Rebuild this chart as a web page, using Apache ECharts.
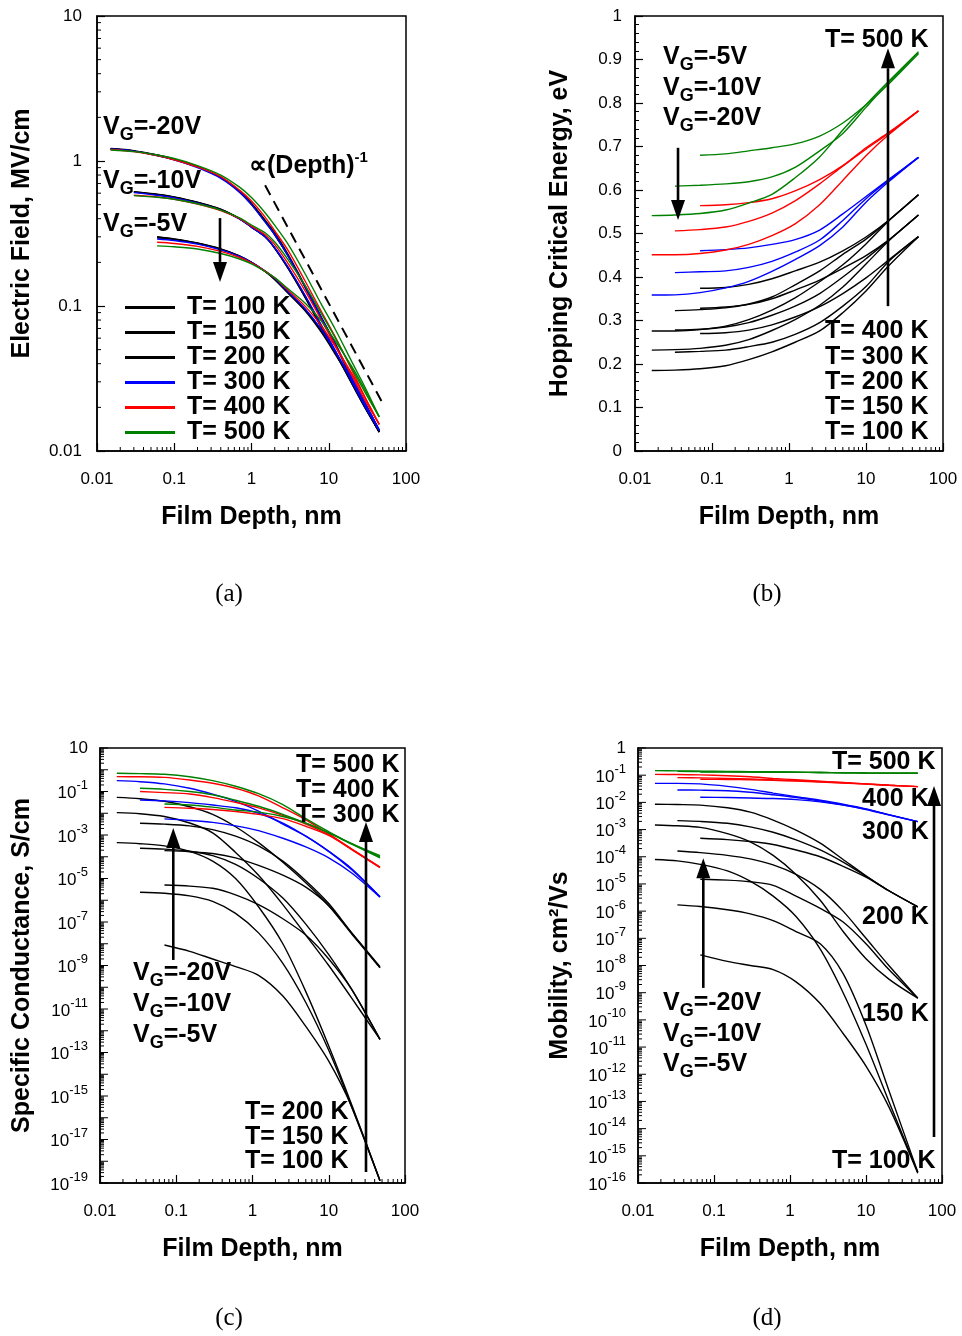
<!DOCTYPE html>
<html><head><meta charset="utf-8"><title>Film depth charts</title>
<script src="https://cdn.jsdelivr.net/npm/echarts@6.0.0/dist/echarts.min.js"></script>
<style>html,body{margin:0;padding:0;background:#fff;}#chart{width:962px;height:1336px;}</style>
</head><body><div id="chart"></div>
<script>
// ---------------- DATA ----------------
// Panel (a): Electric field (MV/cm) vs film depth (nm)
const depthA = [0.015, 0.03, 0.06, 0.1, 0.2, 0.4, 0.7, 1, 1.5, 2, 3, 5, 8, 12, 20, 30, 45];
const eVG20T100 = [1.22, 1.18, 1.10, 1.03, 0.91, 0.77, 0.61, 0.50, 0.38, 0.31, 0.22, 0.133, 0.082, 0.055, 0.031, 0.020, 0.0135];
const eVG20T150 = [1.21, 1.17, 1.10, 1.03, 0.91, 0.77, 0.62, 0.51, 0.39, 0.31, 0.22, 0.134, 0.083, 0.055, 0.031, 0.020, 0.0136];
const eVG20T200 = [1.21, 1.17, 1.09, 1.02, 0.91, 0.77, 0.62, 0.51, 0.39, 0.32, 0.225, 0.136, 0.084, 0.056, 0.032, 0.021, 0.014];
const eVG20T300 = [1.21, 1.17, 1.09, 1.02, 0.90, 0.76, 0.61, 0.50, 0.38, 0.31, 0.22, 0.134, 0.083, 0.055, 0.032, 0.021, 0.0138];
const eVG20T400 = [1.20, 1.16, 1.09, 1.02, 0.91, 0.78, 0.63, 0.53, 0.41, 0.33, 0.24, 0.147, 0.092, 0.062, 0.036, 0.023, 0.0152];
const eVG20T500 = [1.19, 1.16, 1.10, 1.04, 0.93, 0.80, 0.66, 0.56, 0.44, 0.36, 0.265, 0.165, 0.103, 0.070, 0.041, 0.027, 0.0172];
const eVG10T100 = [null, 0.615, 0.59, 0.565, 0.52, 0.465, 0.40, 0.35, 0.30, 0.25, 0.18, 0.113, 0.071, 0.048, 0.029, 0.0195, 0.0135];
const eVG10T150 = [null, 0.612, 0.588, 0.563, 0.518, 0.463, 0.40, 0.35, 0.30, 0.25, 0.181, 0.114, 0.072, 0.049, 0.029, 0.0196, 0.0136];
const eVG10T200 = [null, 0.61, 0.585, 0.56, 0.515, 0.46, 0.40, 0.35, 0.30, 0.252, 0.183, 0.116, 0.073, 0.049, 0.030, 0.020, 0.0138];
const eVG10T300 = [null, 0.605, 0.58, 0.557, 0.512, 0.458, 0.398, 0.35, 0.30, 0.252, 0.184, 0.117, 0.074, 0.050, 0.030, 0.020, 0.0139];
const eVG10T400 = [null, 0.58, 0.565, 0.545, 0.505, 0.455, 0.40, 0.355, 0.31, 0.265, 0.195, 0.126, 0.080, 0.054, 0.033, 0.022, 0.0153];
const eVG10T500 = [null, 0.577, 0.562, 0.545, 0.507, 0.458, 0.405, 0.362, 0.32, 0.276, 0.207, 0.137, 0.089, 0.061, 0.037, 0.025, 0.0172];
const eVG5T100 = [null, null, 0.30, 0.29, 0.272, 0.248, 0.222, 0.20, 0.173, 0.152, 0.122, 0.092, 0.066, 0.047, 0.030, 0.020, 0.0135];
const eVG5T150 = [null, null, 0.298, 0.289, 0.271, 0.247, 0.221, 0.20, 0.173, 0.153, 0.123, 0.093, 0.067, 0.048, 0.030, 0.020, 0.0136];
const eVG5T200 = [null, null, 0.295, 0.287, 0.27, 0.246, 0.221, 0.20, 0.174, 0.154, 0.124, 0.094, 0.068, 0.048, 0.031, 0.021, 0.0138];
const eVG5T300 = [null, null, 0.29, 0.283, 0.267, 0.244, 0.22, 0.20, 0.174, 0.155, 0.125, 0.095, 0.069, 0.049, 0.031, 0.021, 0.014];
const eVG5T400 = [null, null, 0.275, 0.27, 0.258, 0.238, 0.216, 0.198, 0.174, 0.156, 0.128, 0.099, 0.073, 0.053, 0.034, 0.023, 0.0153];
const eVG5T500 = [null, null, 0.26, 0.256, 0.247, 0.230, 0.211, 0.195, 0.173, 0.157, 0.131, 0.104, 0.079, 0.058, 0.038, 0.026, 0.0172];
const slopeRefDepth = [1.5, 52];
const slopeRefField = [0.68, 0.0205];

// Panel (b): hopping critical energy (eV)
const depthB = [0.0165, 0.033, 0.07, 0.15, 0.3, 0.6, 1.2, 2.5, 5, 10, 20, 48];
const hVG5T500 = [null, null, 0.680, 0.683, 0.690, 0.697, 0.706, 0.724, 0.754, 0.796, 0.845, 0.914];
const hVG10T500 = [null, 0.609, 0.611, 0.614, 0.619, 0.630, 0.652, 0.690, 0.730, 0.790, 0.848, 0.914];
const hVG20T500 = [0.541, 0.5425, 0.546, 0.554, 0.570, 0.590, 0.628, 0.676, 0.738, 0.796, 0.851, 0.918];
const hVG5T400 = [null, null, 0.564, 0.566, 0.571, 0.580, 0.598, 0.624, 0.656, 0.697, 0.733, 0.782];
const hVG10T400 = [null, 0.506, 0.509, 0.515, 0.528, 0.547, 0.575, 0.614, 0.655, 0.694, 0.731, 0.782];
const hVG20T400 = [0.451, 0.451, 0.454, 0.462, 0.475, 0.495, 0.522, 0.566, 0.622, 0.679, 0.728, 0.782];
const hVG5T300 = [null, null, 0.4605, 0.463, 0.467, 0.475, 0.486, 0.508, 0.545, 0.585, 0.625, 0.675];
const hVG10T300 = [null, 0.41, 0.412, 0.414, 0.422, 0.436, 0.457, 0.485, 0.530, 0.580, 0.623, 0.675];
const hVG20T300 = [0.3586, 0.359, 0.364, 0.375, 0.390, 0.413, 0.440, 0.472, 0.515, 0.572, 0.620, 0.675];
const hVG5T200 = [null, null, 0.374, 0.376, 0.383, 0.396, 0.414, 0.434, 0.460, 0.492, 0.531, 0.589];
const hVG10T200 = [null, 0.3226, 0.325, 0.329, 0.338, 0.354, 0.382, 0.414, 0.452, 0.487, 0.531, 0.589];
const hVG20T200 = [0.276, 0.276, 0.279, 0.287, 0.302, 0.324, 0.352, 0.389, 0.428, 0.476, 0.530, 0.589];
const hVG5T150 = [null, null, 0.328, 0.331, 0.337, 0.350, 0.370, 0.393, 0.420, 0.449, 0.486, 0.5425];
const hVG10T150 = [null, 0.278, 0.280, 0.285, 0.295, 0.312, 0.333, 0.362, 0.400, 0.442, 0.485, 0.5425];
const hVG20T150 = [0.232, 0.233, 0.236, 0.243, 0.256, 0.277, 0.302, 0.335, 0.377, 0.430, 0.484, 0.5425];
const hVG5T100 = [null, null, 0.270, 0.272, 0.278, 0.290, 0.308, 0.332, 0.362, 0.398, 0.440, 0.4927];
const hVG10T100 = [null, 0.227, 0.229, 0.232, 0.240, 0.250, 0.268, 0.295, 0.333, 0.378, 0.437, 0.4927];
const hVG20T100 = [0.185, 0.186, 0.189, 0.196, 0.210, 0.228, 0.250, 0.276, 0.318, 0.368, 0.427, 0.4927];

// Panel (c): specific conductance, stored as log10(S/cm)
const depthC = [0.0166, 0.0335, 0.07, 0.15, 0.3, 0.6, 1.2, 2.5, 5, 10, 20, 47];
const sigVG20T500 = [-0.163, -0.18, -0.21, -0.32, -0.50, -0.76, -1.1, -1.6, -2.25, -2.85, -3.4, -3.95];
const sigVG10T500 = [null, -0.853, -0.9, -1.0, -1.15, -1.4, -1.68, -2.05, -2.45, -2.9, -3.4, -4.0];
const sigVG5T500 = [null, null, -1.575, -1.62, -1.72, -1.85, -1.95, -2.15, -2.45, -2.9, -3.42, -4.05];
const sigVG20T400 = [-0.318, -0.32, -0.35, -0.47, -0.62, -0.85, -1.2, -1.75, -2.3, -2.95, -3.65, -4.49];
const sigVG10T400 = [null, -1.0, -1.05, -1.115, -1.28, -1.5, -1.75, -2.1, -2.5, -3.0, -3.65, -4.47];
const sigVG5T400 = [null, null, -1.73, -1.77, -1.83, -1.92, -2.05, -2.25, -2.6, -3.02, -3.67, -4.5];
const sigVG20T300 = [-0.50, -0.55, -0.65, -0.85, -1.12, -1.45, -1.9, -2.5, -3.05, -3.75, -4.55, -5.84];
const sigVG10T300 = [null, -1.39, -1.43, -1.51, -1.62, -1.75, -2.0, -2.45, -3.05, -3.75, -4.6, -5.84];
const sigVG5T300 = [null, null, -2.26, -2.33, -2.42, -2.58, -2.8, -3.15, -3.55, -4.05, -4.75, -5.86];
const sigVG20T200 = [-1.27, -1.33, -1.45, -1.70, -2.05, -2.62, -3.35, -4.25, -5.2, -6.25, -7.55, -9.1];
const sigVG10T200 = [null, -2.46, -2.50, -2.58, -2.75, -3.05, -3.5, -4.2, -5.1, -6.15, -7.5, -9.1];
const sigVG5T200 = [null, null, -3.72, -3.77, -3.85, -4.05, -4.4, -4.85, -5.4, -6.25, -7.5, -9.06];
const sigVG20T150 = [-1.97, -2.02, -2.15, -2.45, -2.9, -3.8, -4.85, -6.2, -7.6, -9.0, -10.5, -12.4];
const sigVG10T150 = [null, -3.61, -3.65, -3.75, -3.95, -4.35, -5.0, -5.9, -7.1, -8.5, -10.1, -12.4];
const sigVG5T150 = [null, null, -5.30, -5.35, -5.45, -5.75, -6.2, -6.85, -7.6, -8.7, -10.1, -12.4];
const sigVG20T100 = [-3.35, -3.4, -3.5, -3.75, -4.2, -5.0, -6.3, -8.0, -10.2, -12.7, -15.4, -18.9];
const sigVG10T100 = [null, -5.63, -5.68, -5.8, -6.05, -6.6, -7.5, -8.9, -10.7, -12.9, -15.5, -18.9];
const sigVG5T100 = [null, null, -8.06, -8.35, -8.7, -9.05, -9.45, -10.4, -11.8, -13.4, -15.5, -18.9];

// Panel (d): mobility, stored as log10(cm2/Vs)
const depthD = [0.0167, 0.033, 0.066, 0.15, 0.3, 0.6, 1.2, 2.5, 5, 10, 20, 48];
const muVG20T500 = [-0.834, -0.84, -0.85, -0.86, -0.87, -0.88, -0.89, -0.90, -0.91, -0.92, -0.925, -0.93];
const muVG10T500 = [null, -0.86, -0.865, -0.87, -0.88, -0.885, -0.89, -0.90, -0.91, -0.92, -0.925, -0.93];
const muVG5T500 = [null, null, -0.88, -0.88, -0.885, -0.89, -0.895, -0.90, -0.91, -0.92, -0.925, -0.93];
const muVG20T400 = [-0.97, -0.975, -0.99, -1.02, -1.06, -1.12, -1.17, -1.22, -1.27, -1.32, -1.37, -1.42];
const muVG10T400 = [null, -1.09, -1.10, -1.12, -1.14, -1.17, -1.2, -1.24, -1.28, -1.32, -1.37, -1.42];
const muVG5T400 = [null, null, -1.15, -1.16, -1.17, -1.19, -1.22, -1.25, -1.29, -1.33, -1.37, -1.42];
const muVG20T300 = [-1.30, -1.30, -1.32, -1.41, -1.52, -1.66, -1.79, -1.92, -2.07, -2.24, -2.45, -2.71];
const muVG10T300 = [null, -1.545, -1.55, -1.57, -1.63, -1.72, -1.82, -1.95, -2.09, -2.25, -2.46, -2.71];
const muVG5T300 = [null, null, -1.81, -1.82, -1.84, -1.86, -1.9, -1.98, -2.1, -2.26, -2.46, -2.71];
const muVG20T200 = [-2.07, -2.08, -2.1, -2.2, -2.36, -2.65, -3.02, -3.5, -4.1, -4.7, -5.25, -5.84];
const muVG10T200 = [null, -2.67, -2.7, -2.77, -2.9, -3.1, -3.38, -3.75, -4.2, -4.72, -5.25, -5.84];
const muVG5T200 = [null, null, -3.32, -3.37, -3.44, -3.55, -3.75, -4.0, -4.35, -4.75, -5.25, -5.84];
const muVG20T150 = [-2.83, -2.86, -2.92, -3.15, -3.45, -3.95, -4.65, -5.6, -6.75, -7.75, -8.5, -9.2];
const muVG10T150 = [null, -3.79, -3.85, -3.95, -4.08, -4.3, -4.65, -5.2, -6.0, -7.0, -8.0, -9.2];
const muVG5T150 = [null, null, -4.83, -4.86, -4.92, -5.05, -5.45, -5.9, -6.4, -7.2, -8.15, -9.2];
const muVG20T100 = [-4.10, -4.15, -4.28, -4.52, -4.9, -5.45, -6.2, -7.4, -9.0, -10.9, -13.0, -15.6];
const muVG10T100 = [null, -5.77, -5.83, -5.95, -6.1, -6.35, -6.75, -7.2, -8.3, -10.2, -12.6, -15.6];
const muVG5T100 = [null, null, -7.61, -7.85, -8.0, -8.15, -8.6, -9.4, -10.5, -11.7, -13.2, -15.64];

// Tick labels
const depthTicks = [0.01, 0.1, 1, 10, 100];
const sigmaLabelExps = [1, -1, -3, -5, -7, -9, -11, -13, -15, -17, -19];
const muLabelExps = [0, -1, -2, -3, -4, -5, -6, -7, -8, -9, -10, -11, -12, -13, -14, -15, -16];
const legendNames = ['T= 100 K', 'T= 150 K', 'T= 200 K', 'T= 300 K', 'T= 400 K', 'T= 500 K'];

// Arrows [x1, y1, x2, y2] in data units (head at second point)
const arrowA = [[0.391, 0.404, 0.391, 0.1466]];
const arrowB = [[0.0362, 0.697, 0.0362, 0.531], [19.3, 0.333, 19.3, 0.926]];
const arrowC = [[30.8, 3.2e-19, 30.8, 4.0e-3], [0.0914, 1.8e-9, 0.0914, 2.1e-3]];
const arrowD = [[78.5, 4.9e-15, 78.5, 0.04], [0.0723, 1.5e-9, 0.0723, 8.9e-5]];

// ---------------- CHART ----------------
const FONT = '"Liberation Sans", Arial, Helvetica, sans-serif';
const BLACK = '#000000', BLUE = '#0000ff', RED = '#ff0000', GREEN = '#008000';
const mctx = document.createElement('canvas').getContext('2d');
function textW(t, size) { mctx.font = size + 'px "Liberation Sans"'; return mctx.measureText(t).width; }

const gridsLayout = [
  { left: 97, top: 16, width: 309, height: 435 },
  { left: 635, top: 16, width: 308, height: 435 },
  { left: 100, top: 748, width: 305, height: 435 },
  { left: 638, top: 748, width: 304, height: 435 }
];
const series = [];

function addCurve(gi, name, color, xs, ys, isExp) {
  const data = [];
  ys.forEach((v, i) => { if (v !== null) data.push([xs[i], isExp ? Math.pow(10, v) : v]); });
  series.push({
    type: 'line', name: name, xAxisIndex: gi, yAxisIndex: gi, data: data,
    showSymbol: false, symbol: 'none', smooth: 0.3, silent: true, z: 3,
    lineStyle: { color: color, width: 1.4 }, itemStyle: { color: color }
  });
}

// panel a
[[eVG20T100, eVG10T100, eVG5T100, 'T= 100 K', BLACK], [eVG20T150, eVG10T150, eVG5T150, 'T= 150 K', BLACK],
 [eVG20T200, eVG10T200, eVG5T200, 'T= 200 K', BLACK], [eVG20T300, eVG10T300, eVG5T300, 'T= 300 K', BLUE],
 [eVG20T400, eVG10T400, eVG5T400, 'T= 400 K', RED], [eVG20T500, eVG10T500, eVG5T500, 'T= 500 K', GREEN]]
  .forEach(g => { for (let k = 0; k < 3; k++) addCurve(0, g[3], g[4], depthA, g[k], false); });
series.push({
  type: 'line', xAxisIndex: 0, yAxisIndex: 0, silent: true, symbol: 'none', showSymbol: false,
  data: slopeRefDepth.map((d, i) => [d, slopeRefField[i]]),
  lineStyle: { color: '#000', width: 2, type: [11, 7] }, z: 4
});
// panel b
[[hVG20T100, hVG10T100, hVG5T100, BLACK], [hVG20T150, hVG10T150, hVG5T150, BLACK], [hVG20T200, hVG10T200, hVG5T200, BLACK],
 [hVG20T300, hVG10T300, hVG5T300, BLUE], [hVG20T400, hVG10T400, hVG5T400, RED], [hVG20T500, hVG10T500, hVG5T500, GREEN]]
  .forEach(g => { for (let k = 0; k < 3; k++) addCurve(1, 'b', g[3], depthB, g[k], false); });
// panel c
[[sigVG20T100, sigVG10T100, sigVG5T100, BLACK], [sigVG20T150, sigVG10T150, sigVG5T150, BLACK], [sigVG20T200, sigVG10T200, sigVG5T200, BLACK],
 [sigVG20T300, sigVG10T300, sigVG5T300, BLUE], [sigVG20T400, sigVG10T400, sigVG5T400, RED], [sigVG20T500, sigVG10T500, sigVG5T500, GREEN]]
  .forEach(g => { for (let k = 0; k < 3; k++) addCurve(2, 'c', g[3], depthC, g[k], true); });
// panel d
[[muVG20T100, muVG10T100, muVG5T100, BLACK], [muVG20T150, muVG10T150, muVG5T150, BLACK], [muVG20T200, muVG10T200, muVG5T200, BLACK],
 [muVG20T300, muVG10T300, muVG5T300, BLUE], [muVG20T400, muVG10T400, muVG5T400, RED], [muVG20T500, muVG10T500, muVG5T500, GREEN]]
  .forEach(g => { for (let k = 0; k < 3; k++) addCurve(3, 'd', g[3], depthD, g[k], true); });

// tick decorations
function logMinors(nFrom, nTo) { const out = []; for (let n = nFrom; n <= nTo; n++) for (let k = 2; k <= 9; k++) out.push(k * Math.pow(10, n)); return out; }
function logMajors(nFrom, nTo) { const out = []; for (let n = nFrom; n <= nTo; n++) out.push(Math.pow(10, n)); return out; }
function tickSeries(gi, axis, values, len, ref) {
  series.push({
    type: 'custom', xAxisIndex: gi, yAxisIndex: gi, silent: true, clip: false, z: 6,
    data: values.map(v => axis === 'x' ? [v, ref] : [ref, v]),
    renderItem: function (params, api) {
      const cs = params.coordSys;
      if (axis === 'x') {
        const px = api.coord([api.value(0), ref])[0];
        const yb = cs.y + cs.height;
        return { type: 'line', shape: { x1: px, y1: yb, x2: px, y2: yb - len }, style: { stroke: '#000', lineWidth: 1 } };
      }
      const py = api.coord([ref, api.value(1)])[1];
      return { type: 'line', shape: { x1: cs.x, y1: py, x2: cs.x + len, y2: py }, style: { stroke: '#000', lineWidth: 1 } };
    }
  });
}
for (let gi = 0; gi < 4; gi++) tickSeries(gi, 'x', logMinors(-2, 1), 4, gi === 1 ? 0.5 : (gi === 0 ? 1 : 1e-5));
tickSeries(0, 'y', logMinors(-2, 0), 4, 1);
tickSeries(2, 'y', logMinors(-19, 0), 4, 1);
tickSeries(2, 'y', logMajors(-19, 1), 8, 1);
tickSeries(3, 'y', logMinors(-16, -1), 4, 1);
tickSeries(3, 'y', logMajors(-16, 0), 8, 1);

function expLabelSeries(gi, exps) {
  series.push({
    type: 'custom', xAxisIndex: gi, yAxisIndex: gi, silent: true, clip: false, z: 6,
    data: exps.map(e => [1, Math.pow(10, e), e]),
    renderItem: function (params, api) {
      const e = api.value(2);
      const py = api.coord([1, api.value(1)])[1];
      const x0 = params.coordSys.x - 12;
      const base = { fill: '#000', fontFamily: FONT, align: 'right', verticalAlign: 'middle' };
      if (e === 0 || e === 1) {
        return { type: 'text', x: x0, y: py, style: Object.assign({ text: e === 0 ? '1' : '10', fontSize: 17 }, base) };
      }
      const es = String(e);
      const w = textW(es, 13);
      return { type: 'group', children: [
        { type: 'text', x: x0 - w, y: py + 2, style: Object.assign({ text: '10', fontSize: 17 }, base) },
        { type: 'text', x: x0, y: py - 6, style: Object.assign({ text: es, fontSize: 13 }, base) }
      ] };
    }
  });
}
expLabelSeries(2, sigmaLabelExps);
expLabelSeries(3, muLabelExps);

function arrowSeries(gi, arr) {
  series.push({
    type: 'custom', xAxisIndex: gi, yAxisIndex: gi, silent: true, clip: false, z: 8,
    data: arr, encode: { x: [0, 2], y: [1, 3] },
    renderItem: function (params, api) {
      const p1 = api.coord([api.value(0), api.value(1)]);
      const p2 = api.coord([api.value(2), api.value(3)]);
      const dx = p2[0] - p1[0], dy = p2[1] - p1[1], L = Math.hypot(dx, dy);
      const ux = dx / L, uy = dy / L, hl = 20, hw = 7;
      const bx = p2[0] - ux * hl, by = p2[1] - uy * hl;
      return { type: 'group', children: [
        { type: 'line', shape: { x1: p1[0], y1: p1[1], x2: bx, y2: by }, style: { stroke: '#000', lineWidth: 2.6 } },
        { type: 'polygon', shape: { points: [[p2[0], p2[1]], [bx - uy * hw, by + ux * hw], [bx + uy * hw, by - ux * hw]] }, style: { fill: '#000' } }
      ] };
    }
  });
}
arrowSeries(0, arrowA); arrowSeries(1, arrowB); arrowSeries(2, arrowC); arrowSeries(3, arrowD);

function fmtNum(v) { return String(+(+v).toPrecision(6)); }
function xAxisFor(gi) {
  return {
    type: 'log', logBase: 10, min: 0.01, max: 100, gridIndex: gi,
    name: 'Film Depth, nm', nameLocation: 'middle', nameGap: 54,
    nameTextStyle: { fontFamily: FONT, fontSize: 25, fontWeight: 'bold', color: '#000' },
    axisLine: { show: true, onZero: false, lineStyle: { color: '#000', width: 1.5 } },
    axisTick: { show: true, inside: true, length: 8, lineStyle: { color: '#000', width: 1.2 } },
    minorTick: { show: false }, splitLine: { show: false },
    axisLabel: { color: '#000', fontFamily: FONT, fontSize: 17, margin: 20, showMinLabel: true, showMaxLabel: true, formatter: fmtNum }
  };
}
function yName(name, gap) {
  return { name: name, nameLocation: 'middle', nameGap: gap,
    nameTextStyle: { fontFamily: FONT, fontSize: 25, fontWeight: 'bold', color: '#000' } };
}
const axisLineY = { show: true, onZero: false, lineStyle: { color: '#000', width: 1.5 } };
const yAxes = [
  Object.assign({ type: 'log', logBase: 10, min: 0.01, max: 10, gridIndex: 0, axisLine: axisLineY,
    axisTick: { show: true, inside: true, length: 8, lineStyle: { color: '#000', width: 1.2 } },
    splitLine: { show: false }, minorTick: { show: false },
    axisLabel: { color: '#000', fontFamily: FONT, fontSize: 17, margin: 15, showMinLabel: true, showMaxLabel: true, formatter: fmtNum } },
    yName('Electric Field, MV/cm', 62)),
  Object.assign({ type: 'value', min: 0, max: 1, interval: 0.1, gridIndex: 1, axisLine: axisLineY,
    axisTick: { show: true, inside: true, length: 8, lineStyle: { color: '#000', width: 1.2 } },
    minorTick: { show: true, splitNumber: 5, length: 4, lineStyle: { color: '#000', width: 1 } },
    splitLine: { show: false }, minorSplitLine: { show: false },
    axisLabel: { color: '#000', fontFamily: FONT, fontSize: 17, margin: 13, showMinLabel: true, showMaxLabel: true, formatter: fmtNum } },
    yName('Hopping Critical Energy, eV', 62)),
  Object.assign({ type: 'log', logBase: 10, min: 1e-19, max: 10, gridIndex: 2, axisLine: axisLineY,
    axisTick: { show: false }, axisLabel: { show: false }, splitLine: { show: false }, minorTick: { show: false } },
    yName('Specific Conductance, S/cm', 65)),
  Object.assign({ type: 'log', logBase: 10, min: 1e-16, max: 1, gridIndex: 3, axisLine: axisLineY,
    axisTick: { show: false }, axisLabel: { show: false }, splitLine: { show: false }, minorTick: { show: false } },
    yName('Mobility, cm\u00b2/Vs', 65))
];

// annotations
const rich = {
  m: { fontFamily: FONT, fontSize: 25, fontWeight: 'bold', lineHeight: 30, fill: '#000' },
  s: { fontFamily: FONT, fontSize: 18, fontWeight: 'bold', lineHeight: 30, padding: [16, 0, 0, 0], fill: '#000' },
  p: { fontFamily: FONT, fontSize: 15, fontWeight: 'bold', lineHeight: 30, padding: [0, 0, 16, 0], fill: '#000' }
};
function anno(x, y, txt) {
  return { type: 'text', x: x, y: y, silent: true, z: 20,
    style: { text: txt, rich: rich, fill: '#000', align: 'left', verticalAlign: 'middle', fontFamily: FONT, fontSize: 25, fontWeight: 'bold' } };
}
function vg(v) { return '{m|V}{s|G}{m|=' + v + 'V}'; }
function tk(t) { return '{m|' + t + '}'; }
const graphics = [
  anno(103, 127, vg('-20')), anno(103, 181, vg('-10')), anno(103, 224, vg('-5')),
  anno(249, 166, '{m|\u221d(Depth)}{p|-1}'),
  anno(663, 57, vg('-5')), anno(663, 88, vg('-10')), anno(663, 118, vg('-20')),
  anno(825, 40, tk('T= 500 K')), anno(825, 331, tk('T= 400 K')), anno(825, 357, tk('T= 300 K')),
  anno(825, 382, tk('T= 200 K')), anno(825, 407, tk('T= 150 K')), anno(825, 432, tk('T= 100 K')),
  anno(296, 765, tk('T= 500 K')), anno(296, 790, tk('T= 400 K')), anno(296, 815, tk('T= 300 K')),
  anno(133, 973, vg('-20')), anno(133, 1004, vg('-10')), anno(133, 1035, vg('-5')),
  anno(245, 1112, tk('T= 200 K')), anno(245, 1137, tk('T= 150 K')), anno(245, 1161, tk('T= 100 K')),
  anno(832, 762, tk('T= 500 K')), anno(862, 799, tk('400 K')), anno(862, 832, tk('300 K')),
  anno(862, 917, tk('200 K')), anno(862, 1014, tk('150 K')), anno(832, 1161, tk('T= 100 K')),
  anno(663, 1003, vg('-20')), anno(663, 1034, vg('-10')), anno(663, 1064, vg('-5'))
];
[['(a)', 229, 594], ['(b)', 767, 594], ['(c)', 229, 1318], ['(d)', 767, 1318]].forEach(t => {
  graphics.push({ type: 'text', x: t[1], y: t[2], silent: true,
    style: { text: t[0], fill: '#000', fontFamily: '"Liberation Serif", "Times New Roman", serif', fontSize: 25, align: 'center', verticalAlign: 'middle' } });
});

const chart = echarts.init(document.getElementById('chart'), null, { renderer: 'canvas' });
chart.setOption({
  animation: false,
  backgroundColor: '#ffffff',
  grid: gridsLayout.map(g => Object.assign({ show: true, borderColor: '#000', borderWidth: 1.5, backgroundColor: 'transparent', containLabel: false }, g)),
  xAxis: [0, 1, 2, 3].map(xAxisFor),
  yAxis: yAxes,
  legend: {
    data: legendNames, orient: 'vertical', left: 120, top: 290, itemWidth: 50, itemHeight: 3, itemGap: 0,
    icon: 'rect', selectedMode: false,
    textStyle: { fontFamily: FONT, fontSize: 25, fontWeight: 'bold', color: '#000', lineHeight: 25, padding: [0, 0, 0, 7] }
  },
  graphic: graphics,
  series: series
});
</script></body></html>
